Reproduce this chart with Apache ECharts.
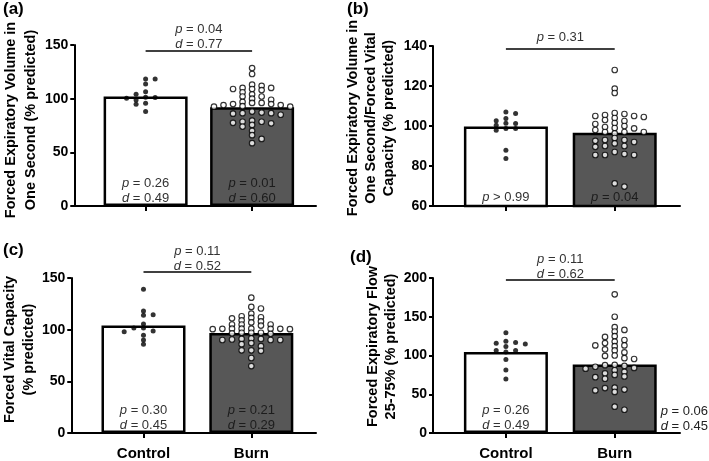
<!DOCTYPE html>
<html><head><meta charset="utf-8">
<script src="https://cdn.jsdelivr.net/npm/echarts@6/dist/echarts.min.js"></script>
<style>html,body{margin:0;padding:0;background:#fff}#c{width:709px;height:461px}</style>
</head><body><div id="c"></div>
<script>
const categories = ['Control', 'Burn'];

// (a) Forced expiratory volume in one second (% predicted)
const fev1Means = [102, 92];
const fev1Control = [118.4, 118.4, 113.7, 106.5, 104, 101.3, 101, 100.3, 98.8, 95.7, 94.8, 88];
const fev1Burn = [128.5, 123, 113, 112, 110, 110, 109, 109, 108, 106, 104, 102, 102, 100, 99, 97, 96, 96, 95, 95, 94, 94, 93, 92.5, 92.5, 88, 87, 86.5, 86.5, 86, 85, 79.5, 78.5, 78.5, 77.5, 77, 75.5, 74, 70, 66, 62.5, 58.5];
const fev1GroupP = ['= 0.26', '= 0.01'];
const fev1GroupD = ['0.49', '0.60'];
const fev1CompP = '= 0.04', fev1CompD = '0.77', fev1CompLevel = 144.5;

// (b) FEV1 / FVC (% predicted)
const ratioMeans = [99.7, 96.6];
const ratioControl = [107, 106.2, 103.8, 102.6, 101.4, 101.3, 100.4, 98.8, 98.8, 97.9, 87.9, 83.8];
const ratioBurn = [128, 118.7, 116.5, 106.5, 106, 105.5, 105, 105, 104.5, 104, 103, 102.5, 101.5, 101, 100, 99.5, 99, 98.8, 98, 97, 97, 97, 96.3, 94, 93, 93, 92.6, 92, 91.3, 90, 89.6, 90, 87, 86, 85.5, 85.5, 85.5, 71.3, 69.7];
const ratioGroupP = ['> 0.99', '= 0.04'];
const ratioGroupD = [null, null];
const ratioCompP = '= 0.31', ratioCompD = null, ratioCompLevel = 138.7;

// (c) Forced vital capacity (% predicted)
const fvcMeans = [104, 96.8];
const fvcControl = [139, 118, 114.5, 114, 105.5, 101.5, 101.5, 98.7, 98, 94.5, 90, 86];
const fvcBurn = [131, 122, 120.5, 115.5, 113, 111, 111.5, 112, 109, 108, 107, 105, 105, 105, 104, 101, 101, 100.8, 100.8, 100.5, 100.5, 100.8, 101, 97, 97, 97, 96.5, 96, 91, 91.5, 91, 90.5, 90, 90, 90, 87, 86, 84, 80, 79.5, 80, 72.6, 64.8];
const fvcGroupP = ['= 0.30', '= 0.21'];
const fvcGroupD = ['0.45', '0.29'];
const fvcCompP = '= 0.11', fvcCompD = '0.52', fvcCompLevel = 156.3;

// (d) Forced expiratory flow 25-75% (% predicted)
const fefMeans = [104.5, 88.5];
const fefControl = [129.4, 118.5, 116.9, 115.7, 114.8, 111.5, 106.5, 106.5, 104.4, 94.7, 81.4, 69.7];
const fefBurn = [179, 150, 136.5, 133, 131, 125, 124, 120, 118, 116, 113, 113, 112, 108, 106.5, 104, 100, 99.5, 96.5, 95.5, 88, 87.5, 86.5, 85.5, 84, 83, 81, 79, 77, 75, 73, 72, 70, 58.5, 58, 56, 55, 53, 34, 30];
const fefGroupP = ['= 0.26', '= 0.06'];
const fefGroupD = ['0.49', '0.45'];
const fefCompP = '= 0.11', fefCompD = '0.62', fefCompLevel = 198;

const FONT = '"Liberation Sans", Arial, Helvetica, sans-serif';
const X_MIN = 0.33, X_MAX = 2.6;

const panels = [
  { tag: '(a)', name: 'Forced Expiratory Volume in\nOne Second (% predicted)', ctrl: fev1Control, burn: fev1Burn, means: fev1Means,
    gp: fev1GroupP, gd: fev1GroupD, cp: fev1CompP, cd: fev1CompD, cl: fev1CompLevel, y: [0, 150, 50], showCat: false,
    grid: { left: 70, top: 45, width: 246, height: 161 }, nameGap: 26, lineH: 20, namePad: [0, 0, 0, 11], tagPos: { left: 3, top: 1 },
    compDist: -1, barDist: 0, burnOutside: false, clip: false },
  { tag: '(b)', name: 'Forced Expiratory Volume in\nOne Second/Forced Vital\nCapacity (% predicted)', ctrl: ratioControl, burn: ratioBurn, means: ratioMeans,
    gp: ratioGroupP, gd: ratioGroupD, cp: ratioCompP, cd: ratioCompD, cl: ratioCompLevel, y: [60, 140, 20], showCat: false,
    grid: { left: 433, top: 46, width: 247, height: 160 }, nameGap: 35, lineH: 18, namePad: [0, 0, 0, 16], tagPos: { left: 347, top: 1 },
    compDist: 4, barDist: 2, burnOutside: false, clip: true },
  { tag: '(c)', name: 'Forced Vital Capacity\n(% predicted)', ctrl: fvcControl, burn: fvcBurn, means: fvcMeans,
    gp: fvcGroupP, gd: fvcGroupD, cp: fvcCompP, cd: fvcCompD, cl: fvcCompLevel, y: [0, 150, 50], showCat: true,
    grid: { left: 70, top: 278, width: 246, height: 159 }, nameGap: 26, lineH: 18.5, namePad: [0, 0, 0, 12], tagPos: { left: 3, top: 242 },
    compDist: -2, barDist: 0, burnOutside: false, clip: false },
  { tag: '(d)', name: 'Forced Expiratory Flow\n25-75% (% predicted)', ctrl: fefControl, burn: fefBurn, means: fefMeans,
    gp: fefGroupP, gd: fefGroupD, cp: fefCompP, cd: fefCompD, cl: fefCompLevel, y: [0, 200, 50], showCat: true,
    grid: { left: 433, top: 278, width: 247, height: 159 }, nameGap: 30, lineH: 18, namePad: [0, 0, 0, 18], tagPos: { left: 350, top: 249 },
    compDist: -2, barDist: 0, burnOutside: true, clip: false }
];

function pdText(p, d) {
  const lines = ['{i|p} ' + p];
  if (d) lines.push('{i|d} = ' + d);
  return lines.join('\n');
}
function richFor(color) {
  return { i: { fontStyle: 'italic', fontFamily: FONT, fontSize: 13, color: color, lineHeight: 15 } };
}

// simple beeswarm: greedy column placement in pixel space
function swarm(vals, center, pxPerY, pxPerX) {
  const COL = 9.7, DY = 4.2;
  const cols = {};
  const order = vals.map((v, i) => i).sort((a, b) => vals[b] - vals[a]);
  const res = new Array(vals.length);
  let flip = 1;
  order.forEach(i => {
    const py = vals[i] * pxPerY;
    for (let s = 0; s < 60; s++) {
      const k = s === 0 ? 0 : (s % 2 ? 1 : -1) * Math.ceil(s / 2) * flip;
      const list = cols[k] || (cols[k] = []);
      if (list.every(q => Math.abs(q - py) >= DY)) {
        list.push(py);
        res[i] = [center + k * COL / pxPerX, vals[i]];
        if (k !== 0) flip = -flip;
        break;
      }
    }
  });
  return res;
}

const option = {
  animation: false,
  backgroundColor: '#fff',
  title: [], grid: [], xAxis: [], yAxis: [], series: []
};
const barSeriesIdx = [];

panels.forEach((P, idx) => {
  option.title.push({ text: P.tag, left: P.tagPos.left, top: P.tagPos.top, padding: 0,
    textStyle: { fontSize: 17, fontWeight: 'bold', fontFamily: FONT, color: '#000' } });
  option.grid.push(Object.assign({ containLabel: false }, P.grid));
  option.xAxis.push({
    type: 'value', gridIndex: idx, min: X_MIN, max: X_MAX,
    axisLine: { show: true, onZero: false, lineStyle: { color: '#000', width: 2 } },
    axisTick: { show: true, customValues: [1, 2], length: 5, lineStyle: { color: '#000', width: 2 } },
    axisLabel: { show: P.showCat, customValues: [1, 2], margin: 13, fontSize: 15, fontWeight: 'bold', color: '#000', fontFamily: FONT,
      formatter: v => categories[Math.round(v) - 1] || '' },
    splitLine: { show: false }
  });
  option.yAxis.push({
    type: 'value', gridIndex: idx, min: P.y[0], max: P.y[1], interval: P.y[2],
    name: P.name, nameLocation: 'middle', nameRotate: 90, nameGap: P.nameGap,
    nameTextStyle: { fontSize: 14.5, fontWeight: 'bold', color: '#000', fontFamily: FONT, lineHeight: P.lineH, align: 'center', padding: P.namePad },
    axisLine: { show: true, lineStyle: { color: '#000', width: 2 } },
    axisTick: { show: true, length: 4, lineStyle: { color: '#000', width: 2 } },
    axisLabel: { fontSize: 14, fontWeight: 'bold', color: '#000', fontFamily: FONT, margin: 6 },
    splitLine: { show: false }
  });

  const pxPerY = P.grid.height / (P.y[1] - P.y[0]);
  const pxPerX = P.grid.width / (X_MAX - X_MIN);

  const ctrlLabel = { show: true, position: 'insideBottom', distance: P.barDist, color: '#333', fontSize: 13, fontFamily: FONT, lineHeight: 15,
    formatter: () => pdText(P.gp[0], P.gd[0]), rich: richFor('#333') };
  const burnLabel = P.burnOutside
    ? { show: true, position: ['100%', '100%'], align: 'left', verticalAlign: 'bottom', offset: [4, 1], color: '#222', fontSize: 13, fontFamily: FONT, lineHeight: 15,
        formatter: () => pdText(P.gp[1], P.gd[1]), rich: richFor('#222') }
    : { show: true, position: 'insideBottom', distance: P.barDist, color: '#1c1c1c', fontSize: 13, fontFamily: FONT, lineHeight: 15,
        formatter: () => pdText(P.gp[1], P.gd[1]), rich: richFor('#1c1c1c') };

  barSeriesIdx.push(option.series.length);
  option.series.push({
    type: 'bar', xAxisIndex: idx, yAxisIndex: idx, barWidth: 84, clip: P.clip, z: 2,
    itemStyle: { borderColor: '#000', borderWidth: 2.5 },
    data: [
      { value: [1, P.means[0]], itemStyle: { color: '#ffffff' }, label: ctrlLabel },
      { value: [2, P.means[1]], itemStyle: { color: '#575757' }, label: burnLabel }
    ]
  });
  option.series.push({
    type: 'scatter', xAxisIndex: idx, yAxisIndex: idx, z: 3, symbol: 'circle', symbolSize: 5,
    itemStyle: { color: '#000' },
    data: swarm(P.ctrl, 1, pxPerY, pxPerX)
  });
  option.series.push({
    type: 'scatter', xAxisIndex: idx, yAxisIndex: idx, z: 3, symbol: 'circle', symbolSize: 5.5,
    itemStyle: { color: '#fff', borderColor: '#000', borderWidth: 1.2 },
    data: swarm(P.burn, 2, pxPerY, pxPerX)
  });
});

const chart = echarts.init(document.getElementById('c'));
chart.setOption(option);

// comparison brackets: positions come from the axes' own scales (level may sit above the axis max)
panels.forEach((P, idx) => {
  const a = chart.convertToPixel({ gridIndex: idx }, [1, P.cl]);
  const b = chart.convertToPixel({ gridIndex: idx }, [2, P.cl]);
  option.series[barSeriesIdx[idx]].markLine = {
    silent: true, symbol: ['none', 'none'], animation: false,
    lineStyle: { color: '#000', width: 1.5, type: 'solid' },
    label: { show: true, position: 'insideMiddleTop', distance: P.compDist, color: '#333', fontSize: 13, fontFamily: FONT, lineHeight: 15,
      formatter: () => pdText(P.cp, P.cd), rich: richFor('#333') },
    emphasis: { disabled: true },
    data: [[{ x: a[0], y: a[1] }, { x: b[0], y: b[1] }]]
  };
});
chart.setOption(option, true);
</script>
</body></html>
